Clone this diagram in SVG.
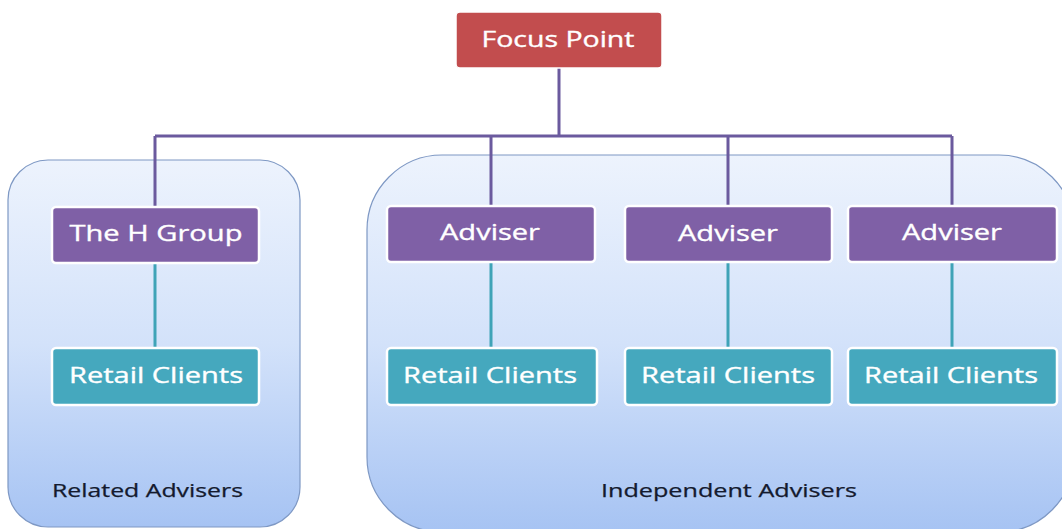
<svg xmlns="http://www.w3.org/2000/svg" width="1062" height="529" viewBox="0 0 1062 529">
<defs>
<linearGradient id="cg" x1="0" y1="0" x2="0" y2="1">
<stop offset="0" stop-color="#EDF3FD"/>
<stop offset="0.5" stop-color="#D3E2FA"/>
<stop offset="1" stop-color="#A6C3F3"/>
</linearGradient>
<style>
.cont{fill:url(#cg);stroke:#7E98C4;stroke-width:1.2}
.purple{fill:#7F60A6;stroke:#FFFFFF;stroke-width:2.5}
.teal{fill:#45A8BE;stroke:#FFFFFF;stroke-width:2.5}
.red{fill:#C24D4E;stroke:#FFFFFF;stroke-width:1.5}
.lbl{font-family:"Open Sans","Noto Sans",sans-serif;font-size:22px;fill:#FFFFFF;stroke:#FFFFFF;stroke-width:0.35;text-anchor:middle}
.cap{font-family:"Open Sans","Noto Sans",sans-serif;font-size:18px;fill:#141A2E;stroke:#141A2E;stroke-width:0.25}
.lp{stroke:#6B5A9E;stroke-width:3;fill:none}
.lt{stroke:#3FA3B7;stroke-width:3;fill:none}
</style>
</defs>
<rect width="1062" height="529" fill="#FFFFFF"/>
<g id="related-advisers">
<rect class="cont" x="8" y="160" width="292" height="367" rx="40"/>
<text class="cap" x="52" y="497" textLength="191" lengthAdjust="spacingAndGlyphs">Related Advisers</text>
</g>
<g id="independent-advisers">
<rect class="cont" x="367" y="155" width="707" height="377" rx="75"/>
<text class="cap" x="601" y="497" textLength="256" lengthAdjust="spacingAndGlyphs">Independent Advisers</text>
</g>
<g id="connectors">
<path class="lp" d="M559 68 V136 M155 136 H952 M155 136 V207 M491 136 V206 M728 136 V206 M952 136 V206"/>
<path class="lt" d="M155 263 V348 M491 262 V348 M728 262 V348 M952 262 V348"/>
</g>
<g id="focus-point">
<rect class="red" x="456" y="12" width="206" height="56" rx="4"/>
<text class="lbl" x="558" y="47" textLength="153" lengthAdjust="spacingAndGlyphs">Focus Point</text>
</g>
<g id="h-group">
<rect class="purple" x="52" y="207" width="207" height="56" rx="4"/>
<text class="lbl" x="156" y="241" textLength="173" lengthAdjust="spacingAndGlyphs">The H Group</text>
</g>
<g id="adviser-1">
<rect class="purple" x="387" y="206" width="208" height="56" rx="4"/>
<text class="lbl" x="490" y="240" textLength="100" lengthAdjust="spacingAndGlyphs">Adviser</text>
</g>
<g id="adviser-2">
<rect class="purple" x="625" y="206" width="207" height="56" rx="4"/>
<text class="lbl" x="728" y="241" textLength="100" lengthAdjust="spacingAndGlyphs">Adviser</text>
</g>
<g id="adviser-3">
<rect class="purple" x="848" y="206" width="209" height="56" rx="4"/>
<text class="lbl" x="952" y="240" textLength="100" lengthAdjust="spacingAndGlyphs">Adviser</text>
</g>
<g id="retail-0">
<rect class="teal" x="52" y="348" width="207" height="57" rx="4"/>
<text class="lbl" x="156" y="383" textLength="174" lengthAdjust="spacingAndGlyphs">Retail Clients</text>
</g>
<g id="retail-1">
<rect class="teal" x="387" y="348" width="210" height="57" rx="4"/>
<text class="lbl" x="490" y="383" textLength="174" lengthAdjust="spacingAndGlyphs">Retail Clients</text>
</g>
<g id="retail-2">
<rect class="teal" x="625" y="348" width="207" height="57" rx="4"/>
<text class="lbl" x="728" y="383" textLength="174" lengthAdjust="spacingAndGlyphs">Retail Clients</text>
</g>
<g id="retail-3">
<rect class="teal" x="848" y="348" width="209" height="57" rx="4"/>
<text class="lbl" x="951" y="383" textLength="174" lengthAdjust="spacingAndGlyphs">Retail Clients</text>
</g>
</svg>
